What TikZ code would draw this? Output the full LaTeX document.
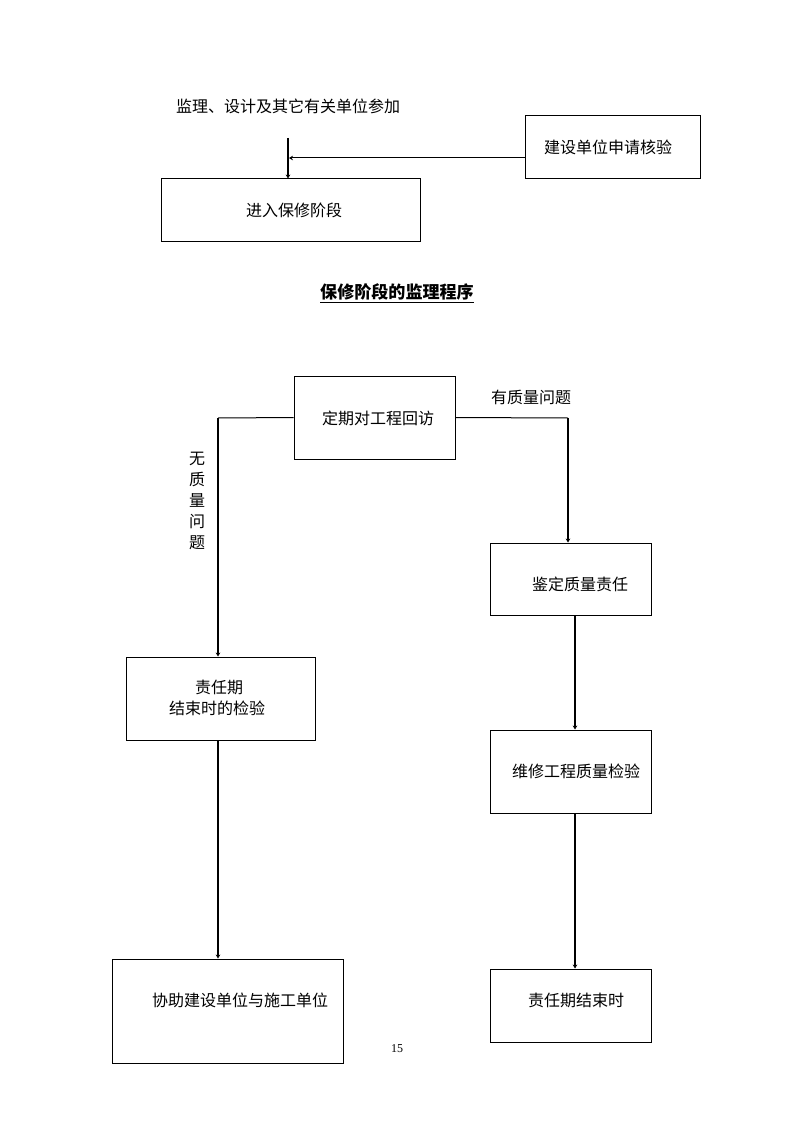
\documentclass[tikz,border=0pt]{standalone}
\usepackage{fontspec}
\newfontfamily\cjk{Noto Sans CJK SC}
\newfontfamily\serifnum{Liberation Serif}
\usetikzlibrary{fit,calc,arrows.meta}
\begin{document}
\begin{tikzpicture}[x=0.75pt,y=-0.75pt,
  box/.style={draw,line width=0.75pt,inner sep=0pt},
  txt/.style={font=\cjk\fontsize{12pt}{15pt}\selectfont,inner sep=0pt,align=center},
  thin/.style={line width=0.75pt},
  thickline/.style={line width=1.5pt},
  tip/.style={-{Stealth[length=3pt,width=3.5pt]}}]
\useasboundingbox (0,0) rectangle (794,1123);
% top part
\node[txt] (part) at (288,106) {监理、设计及其它有关单位参加};
\node[box, fit={(525,116) (700,179)}] (apply) {};
\node[txt] (applyt) at (608,147) {建设单位申请核验};
\node[box, fit={(161,179) (420,241)}] (enter) {};
\node[txt] (entert) at (294,210) {进入保修阶段};
\coordinate (ts) at (288,138);
\coordinate (join) at (289,158);
\draw[thickline,tip] (ts) -- (ts |- enter.north);
\draw[thin,tip] (apply.west |- join) -- (join);
% title
\node[inner sep=0pt,font=\cjk\bfseries\fontsize{12.8pt}{15pt}\selectfont] (title) at (397,293) {\underline{保修阶段的监理程序}};
% flow
\node[box, fit={(294,376) (455,459)}] (visit) {};
\node[txt] (visitt) at (378,418) {定期对工程回访};
\node[box, fit={(490,543) (651,615)}] (ident) {};
\node[txt] (identt) at (580,584) {鉴定质量责任};
\node[box, fit={(490,730) (651,813)}] (repair) {};
\node[txt] (repairt) at (576,771) {维修工程质量检验};
\node[box, fit={(490,969) (651,1042)}] (endr) {};
\node[txt] (endrt) at (576,1000) {责任期结束时};
\node[box, fit={(126,657) (315,740)}] (check) {};
\node[txt,font=\cjk\fontsize{12pt}{15.75pt}\selectfont] (checkt) at (217,698) {\makebox[0pt]{\hspace{3pt}责任期}\\结束时的检验};
\node[box, fit={(112,959) (343,1063)}] (assist) {};
\node[txt] (assistt) at (240,1000) {协助建设单位与施工单位};
\node[txt] (yes) at (531,397) {有质量问题};
\node[txt,font=\cjk\fontsize{12pt}{15.8pt}\selectfont] (no) at (197,501) {无\\质\\量\\问\\题};
\node[inner sep=0pt,font=\serifnum\fontsize{9pt}{10pt}\selectfont] (pg) at (397,1049) {15};
% connectors
\coordinate (lc) at (218,418);
\coordinate (rc) at (568,418);
\draw[thin] (visit.west) -- (lc);
\draw[thickline,tip] (lc) -- (lc |- check.north);
\draw[thin] (visit.east) -- (rc);
\draw[thickline,tip] (rc) -- (rc |- ident.north);
\coordinate (rx) at (575,0);
\draw[thickline,tip] (rx |- ident.south) -- (rx |- repair.north);
\draw[thickline,tip] (rx |- repair.south) -- (rx |- endr.north);
\draw[thickline,tip] (lc |- check.south) -- (lc |- assist.north);
\end{tikzpicture}
\end{document}
